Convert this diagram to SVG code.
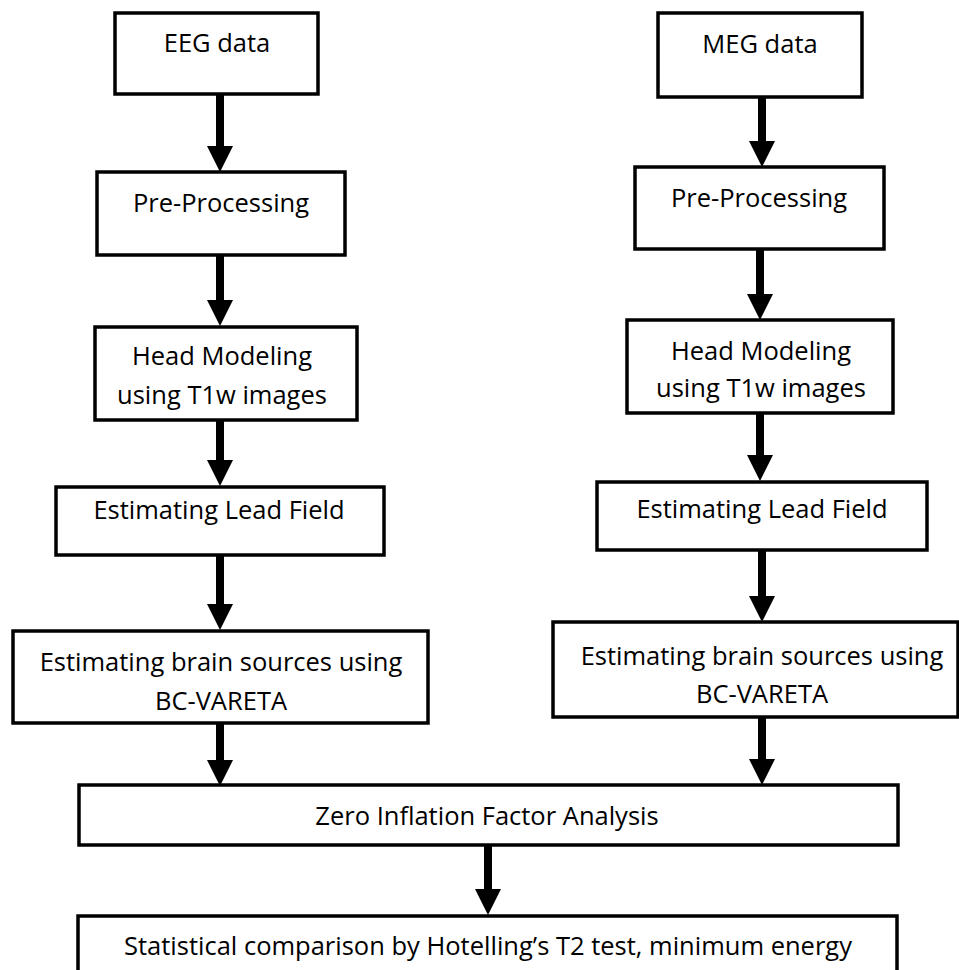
<svg xmlns="http://www.w3.org/2000/svg" width="959" height="970" viewBox="0 0 959 970">
<style>
.box{fill:#fff;stroke:#000;stroke-width:3.5}
.lbl{font-family:"Open Sans","Noto Sans","Liberation Sans",sans-serif;font-size:25.5px;fill:#000;text-anchor:middle}
.arr{stroke:#000;stroke-width:8;fill:none;marker-end:url(#head)}
</style>
<defs>
<marker id="head" markerUnits="userSpaceOnUse" markerWidth="26" markerHeight="26" viewBox="0 0 26 26" refX="0" refY="13" orient="auto">
<path d="M0,0 L26,13 L0,26 z" fill="#000"/>
</marker>
</defs>
<rect width="959" height="970" fill="#fff"/>
<g id="eeg"><rect class="box" x="115" y="13" width="203" height="81"/><text class="lbl" x="217" y="52">EEG data</text></g>
<g id="preL"><rect class="box" x="97" y="172" width="248" height="83"/><text class="lbl" x="221" y="212">Pre-Processing</text></g>
<g id="headL"><rect class="box" x="95" y="327" width="262" height="93"/><text class="lbl" x="222" y="365">Head Modeling</text><text class="lbl" x="222" y="404">using T1w images</text></g>
<g id="leadL"><rect class="box" x="56" y="487" width="328" height="68"/><text class="lbl" x="219" y="519">Estimating Lead Field</text></g>
<g id="bcL"><rect class="box" x="13" y="631" width="415" height="92"/><text class="lbl" x="221" y="671">Estimating brain sources using</text><text class="lbl" x="221" y="710">BC-VARETA</text></g>
<g id="meg"><rect class="box" x="658" y="13" width="204" height="84"/><text class="lbl" x="760" y="53">MEG data</text></g>
<g id="preR"><rect class="box" x="635" y="167" width="249" height="82"/><text class="lbl" x="759" y="207">Pre-Processing</text></g>
<g id="headR"><rect class="box" x="627" y="320" width="266" height="93"/><text class="lbl" x="761" y="360">Head Modeling</text><text class="lbl" x="761" y="397">using T1w images</text></g>
<g id="leadR"><rect class="box" x="597" y="482" width="330" height="68"/><text class="lbl" x="762" y="518">Estimating Lead Field</text></g>
<g id="bcR"><rect class="box" x="553" y="622" width="405" height="95"/><text class="lbl" x="762" y="665">Estimating brain sources using</text><text class="lbl" x="762" y="703">BC-VARETA</text></g>
<g id="zero"><rect class="box" x="79" y="785" width="819" height="60"/><text class="lbl" x="487" y="825">Zero Inflation Factor Analysis</text></g>
<g id="stat"><rect class="box" x="78" y="916" width="819" height="100"/><text class="lbl" x="488" y="955">Statistical comparison by Hotelling’s T2 test, minimum energy</text></g>
<g id="connectors">
<line class="arr" x1="220" y1="94" x2="220" y2="146"/>
<line class="arr" x1="220" y1="255" x2="220" y2="300"/>
<line class="arr" x1="220" y1="420" x2="220" y2="460"/>
<line class="arr" x1="220" y1="555" x2="220" y2="604"/>
<line class="arr" x1="220" y1="723" x2="220" y2="760"/>
<line class="arr" x1="762" y1="97" x2="762" y2="141"/>
<line class="arr" x1="760" y1="249" x2="760" y2="294"/>
<line class="arr" x1="760" y1="413" x2="760" y2="455"/>
<line class="arr" x1="762" y1="550" x2="762" y2="596"/>
<line class="arr" x1="762" y1="717" x2="762" y2="759"/>
<line class="arr" x1="488" y1="845" x2="488" y2="889"/>
</g>
</svg>
